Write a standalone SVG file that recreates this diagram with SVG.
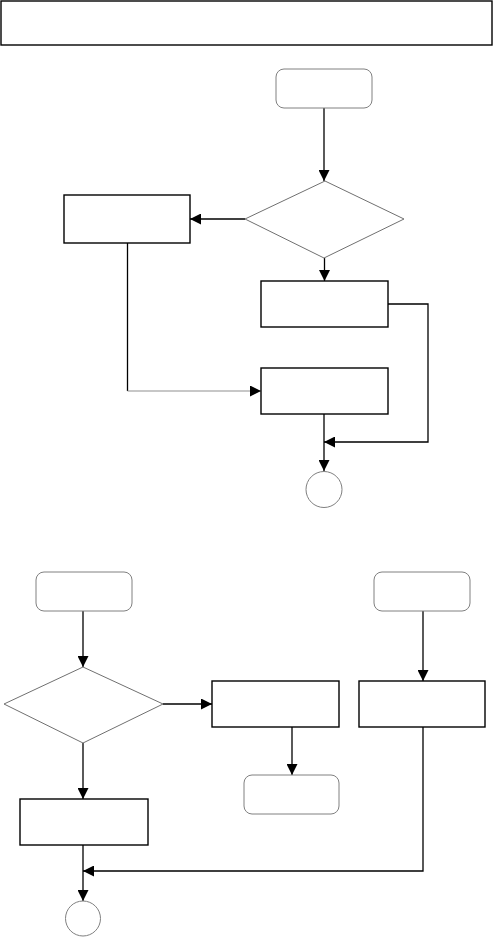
<svg xmlns="http://www.w3.org/2000/svg" width="493" height="937" viewBox="0 0 493 937">
<style>
.box{fill:#fff;stroke:#000;stroke-width:1.4}
.term{fill:#fff;stroke:#808080;stroke-width:1}
.dec{fill:#fff;stroke:#707070;stroke-width:1}
.conn{fill:none;stroke:#000;stroke-width:1.3}
.conng{fill:none;stroke:#909090;stroke-width:1.1}
</style>
<defs>
<marker id="ah" markerUnits="userSpaceOnUse" markerWidth="11" markerHeight="11" refX="11" refY="5.5" orient="auto">
<path d="M0,0 L11,5.5 L0,11 z" fill="#000"/>
</marker>
</defs>
<rect fill="#fff" x="0" y="0" width="493" height="937"/>
<g id="title"><rect class="box" x="1" y="1" width="491" height="44"/></g>
<g id="connectors">
<path class="conn" d="M324,108 V181" marker-end="url(#ah)"/>
<path class="conn" d="M245,219 H190" marker-end="url(#ah)"/>
<path class="conn" d="M324.5,258 V281" marker-end="url(#ah)"/>
<path class="conn" d="M127.5,243 V391"/>
<path class="conng" d="M127.5,391 H261" marker-end="url(#ah)"/>
<path class="conn" d="M388,304 H428 V442 H324" marker-end="url(#ah)"/>
<path class="conn" d="M324,414 V471" marker-end="url(#ah)"/>
<path class="conn" d="M83,611 V667" marker-end="url(#ah)"/>
<path class="conn" d="M163,704 H212" marker-end="url(#ah)"/>
<path class="conn" d="M292,727 V775" marker-end="url(#ah)"/>
<path class="conn" d="M423,611 V681" marker-end="url(#ah)"/>
<path class="conn" d="M83,743 V799" marker-end="url(#ah)"/>
<path class="conn" d="M423,727 V871 H83" marker-end="url(#ah)"/>
<path class="conn" d="M83,845 V901" marker-end="url(#ah)"/>
</g>
<g id="start1"><rect class="term" x="276" y="69" width="96" height="39" rx="8"/></g>
<g id="decision1"><polygon class="dec" points="325,181 404,219 324,258 245,219"/></g>
<g id="boxLeft"><rect class="box" x="64" y="195" width="126" height="48"/></g>
<g id="box1"><rect class="box" x="261" y="281" width="127" height="46"/></g>
<g id="box2"><rect class="box" x="261" y="368" width="127" height="46"/></g>
<g id="end1"><circle class="term" cx="324" cy="489.5" r="18"/></g>
<g id="start2"><rect class="term" x="36" y="572" width="96" height="39" rx="8"/></g>
<g id="start3"><rect class="term" x="374" y="572" width="96" height="39" rx="8"/></g>
<g id="decision2"><polygon class="dec" points="83,667 163,704 83,743 4,704"/></g>
<g id="box3"><rect class="box" x="212" y="681" width="127" height="46"/></g>
<g id="box4"><rect class="box" x="359" y="681" width="126" height="46"/></g>
<g id="term4"><rect class="term" x="244" y="775" width="95" height="39" rx="8"/></g>
<g id="box5"><rect class="box" x="20" y="799" width="128" height="46"/></g>
<g id="end2"><circle class="term" cx="83" cy="918.5" r="17.5"/></g>
</svg>
